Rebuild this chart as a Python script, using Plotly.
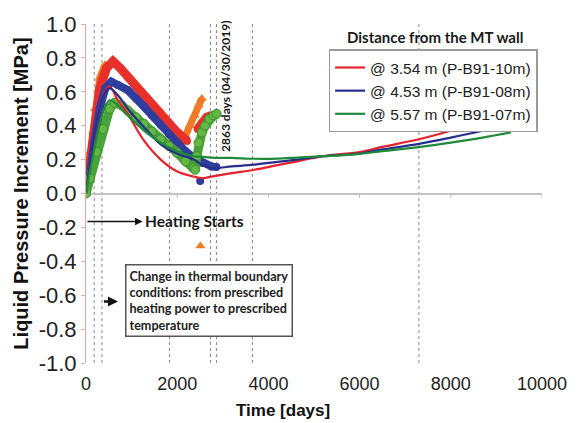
import plotly.graph_objects as go

# ---------------- data ----------------
# measured data (thick noisy bands)
meas_orange_t = [0, 100, 200, 300, 420, None, 2180, 2280, 2380, 2470, 2540, None, 2510]
meas_orange_p = [0.0, 0.25, 0.50, 0.68, 0.76, None, 0.34, 0.40, 0.46, 0.52, 0.56, None, -0.31]

meas_red_t = [0, 150, 300, 450, 592, 750, 916, 1100, 1277, 1450, 1638, 1820, 2000, 2215, None, 2450, 2550, 2650, 2750]
meas_red_p = [0.0, 0.35, 0.62, 0.74, 0.78, 0.74, 0.69, 0.63, 0.57, 0.52, 0.46, 0.41, 0.36, 0.31, None, 0.38, 0.42, 0.45, 0.46]

meas_blue_t = [0, 80, 180, 300, 420, 556, 700, 916, 1100, 1277, 1450, 1638, 1820, 2000, 2180, 2360, 2550, 2750, 2860, None, 2504]
meas_blue_p = [0.0, 0.10, 0.30, 0.50, 0.62, 0.66, 0.64, 0.61, 0.56, 0.515, 0.46, 0.405, 0.35, 0.295, 0.25, 0.21, 0.18, 0.16, 0.157, None, 0.074]

meas_green_t = [0, 87, 231, 375, 520, 628, 780, 916, 1100, 1277, 1450, 1638, 1820, 2000, 2180, 2360, 2395, 2430, 2468, 2540, 2612, 2700, 2800, 2864]
meas_green_p = [0.0, 0.09, 0.245, 0.38, 0.50, 0.535, 0.52, 0.49, 0.45, 0.41, 0.365, 0.32, 0.28, 0.24, 0.19, 0.15, 0.14, 0.22, 0.30, 0.36, 0.40, 0.44, 0.46, 0.47]

# simulated curves (thin lines, shown in legend)
sim_t = [0, 100, 250, 400, 520, 700, 916, 1277, 1638, 2000, 2360, 2540, 2750, 3200, 3690, 4200, 4630, 5210, 6000, 6500, 7300, 8000, 8700, 9320]
sim_red = [0.0, 0.20, 0.45, 0.60, 0.63, 0.55, 0.47, 0.31, 0.20, 0.13, 0.10, 0.09, 0.10, 0.12, 0.14, 0.167, 0.19, 0.22, 0.245, 0.275, 0.32, 0.37, 0.42, 0.47]
sim_blue = [0.0, 0.20, 0.45, 0.59, 0.62, 0.58, 0.50, 0.39, 0.29, 0.235, 0.20, 0.17, 0.15, 0.16, 0.17, 0.187, 0.20, 0.22, 0.236, 0.26, 0.293, 0.33, 0.37, 0.41]
sim_green = [0.0, 0.15, 0.35, 0.50, 0.55, 0.52, 0.46, 0.37, 0.30, 0.25, 0.22, 0.217, 0.212, 0.21, 0.205, 0.206, 0.212, 0.22, 0.234, 0.25, 0.274, 0.30, 0.33, 0.36]

sim_names = ["@ 3.54 m (P-B91-10m)", "@ 4.53 m (P-B91-08m)", "@ 5.57 m (P-B91-07m)"]

event_days = [180, 350, 1830, 2730, 2863, 3650, 7300]
x_ticks = [0, 2000, 4000, 6000, 8000, 10000]
x_tick_text = ["0", "2000", "4000", "6000", "8000", "10000"]
y_ticks = [-1.0, -0.8, -0.6, -0.4, -0.2, 0.0, 0.2, 0.4, 0.6, 0.8, 1.0]
y_tick_text = ["-1.0", "-0.8", "-0.6", "-0.4", "-0.2", "0.0", "0.2", "0.4", "0.6", "0.8", "1.0"]

# ---------------- figure ----------------
fig = go.Figure()

fig.add_trace(go.Scatter(x=meas_orange_t, y=meas_orange_p, mode="lines+markers",
                         line=dict(color="#f07a28", width=7),
                         marker=dict(symbol="triangle-up", size=9, color="#f07a28"),
                         showlegend=False, connectgaps=False))
fig.add_trace(go.Scatter(x=meas_red_t, y=meas_red_p, mode="lines+markers",
                         line=dict(color="#e8302b", width=9),
                         marker=dict(size=8, color="#e8302b"),
                         showlegend=False, connectgaps=False))
fig.add_trace(go.Scatter(x=meas_blue_t, y=meas_blue_p, mode="lines+markers",
                         line=dict(color="#2f3d9c", width=8),
                         marker=dict(size=8, color="#2f3d9c"),
                         showlegend=False, connectgaps=False))
fig.add_trace(go.Scatter(x=meas_green_t, y=meas_green_p, mode="lines+markers",
                         line=dict(color="#4aa33a", width=9),
                         marker=dict(size=9, color="#62b843", line=dict(color="#3d9030", width=1)),
                         showlegend=False))

for vals, col, name in zip([sim_red, sim_blue, sim_green],
                           ["#e6222a", "#262f8c", "#1f8a3a"], sim_names):
    fig.add_trace(go.Scatter(x=sim_t, y=vals, mode="lines", name=name,
                             line=dict(color=col, width=2.2, shape="spline")))

shapes = []
for d in event_days:
    shapes.append(dict(type="line", xref="x", yref="y", x0=d, x1=d, y0=-1, y1=1,
                       line=dict(color="#8a8a8a", width=1, dash="dot"), layer="below"))
for t in x_ticks:
    shapes.append(dict(type="line", xref="x", yref="y", x0=t, x1=t, y0=0, y1=-0.025,
                       line=dict(color="#bdbdbd", width=1)))

bold = "Lato, Arial"
annotations = [
    dict(text="<b>Distance from the MT wall</b>", xref="paper", yref="paper",
         x=0.766, y=0.962, xanchor="center", yanchor="middle", showarrow=False,
         font=dict(family=bold, size=15, color="#1a1a1a")),
    dict(text="<b>2863 days (04/30/2019)</b>", xref="x", yref="y", x=3074, y=0.63,
         textangle=-90, showarrow=False, font=dict(family=bold, size=12, color="#1a1a1a")),
    dict(text="<b>Heating Starts</b>", xref="x", yref="y", x=1260, y=-0.165,
         xanchor="left", showarrow=False, font=dict(family=bold, size=15.5, color="#1a1a1a")),
    dict(text="", xref="x", yref="y", x=1240, y=-0.165, ax=0, ay=-0.165,
         axref="x", ayref="y", showarrow=True, arrowhead=2, arrowsize=1,
         arrowwidth=1.5, arrowcolor="#111"),
    dict(text="<b>Change in thermal boundary<br>conditions: from prescribed<br>heating power to prescribed<br>temperature</b>",
         xref="x", yref="y", x=2700, y=-0.63, align="left", showarrow=False,
         bordercolor="#555", borderwidth=1.5, borderpad=3, bgcolor="white",
         font=dict(family=bold, size=12.6, color="#222")),
    dict(text="", xref="x", yref="y", x=700, y=-0.637, ax=360, ay=-0.637,
         axref="x", ayref="y", showarrow=True, arrowhead=2, arrowsize=0.8,
         arrowwidth=2.5, arrowcolor="#111"),
    dict(text="<b>Time [days]</b>", xref="paper", yref="paper", x=0.431, y=-0.140,
         yanchor="middle", showarrow=False,
         font=dict(family="Arial", size=17, color="#111")),
]

fig.update_layout(
    width=579, height=423,
    margin=dict(l=86, r=31, t=21, b=60),
    paper_bgcolor="white", plot_bgcolor="white",
    font=dict(family="Arial", size=17, color="#222"),
    shapes=shapes, annotations=annotations,
    legend=dict(x=0.532, y=0.925, xanchor="left", yanchor="top",
                bgcolor="white", bordercolor="#9a9a9a", borderwidth=1.5,
                font=dict(family="Arial", size=15.5, color="#222"),
                itemwidth=30, tracegroupgap=0),
    showlegend=True,
)
fig.update_xaxes(range=[0, 10000], tickvals=x_ticks, ticktext=x_tick_text,
                 showgrid=False, zeroline=False,
                 showline=False, ticks="", ticklabelstandoff=8,
                 tickfont=dict(family="Arial", size=18, color="#222"))
fig.update_yaxes(range=[-1, 1], tickvals=y_ticks, ticktext=y_tick_text, showgrid=False,
                 zeroline=True, zerolinecolor="#c4c4c4", zerolinewidth=1.5,
                 showline=True, linecolor="#e9a3a3", linewidth=1,
                 ticks="outside", ticklen=4, tickcolor="#bdbdbd",
                 tickfont=dict(family="Arial", size=22, color="#222"),
                 title=dict(text="<b>Liquid Pressure Increment [MPa]</b>",
                            font=dict(family="Arial", size=20, color="#111"), standoff=4))

fig.write_html("out.html")
